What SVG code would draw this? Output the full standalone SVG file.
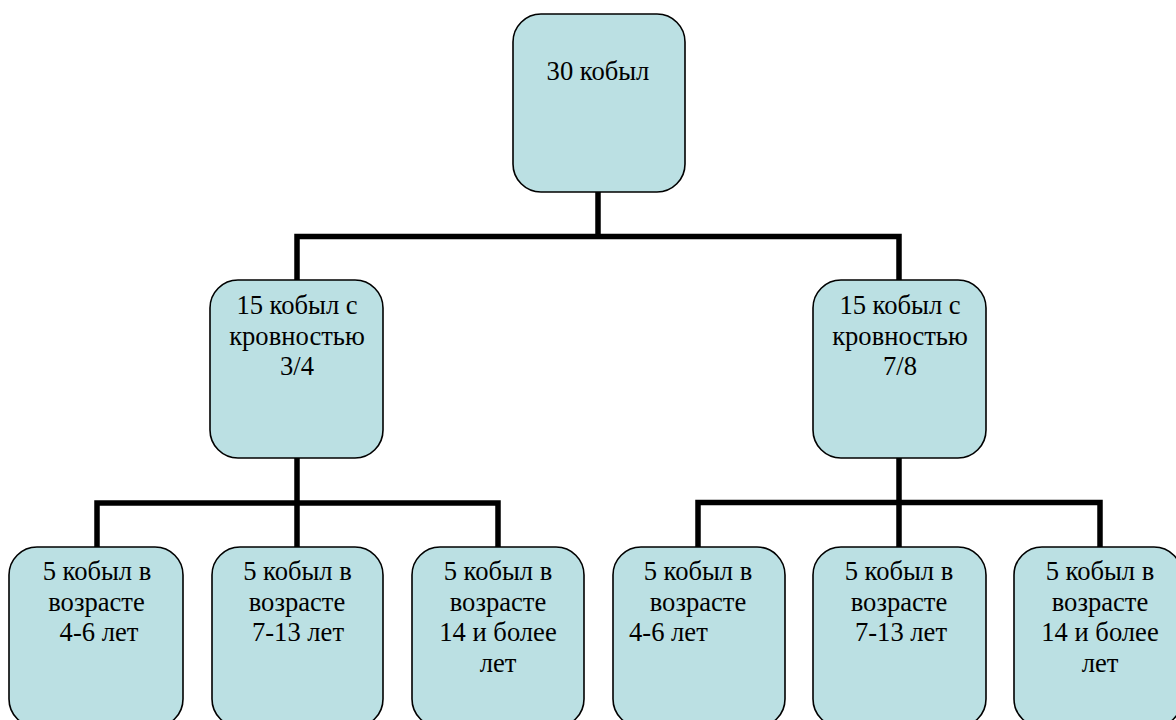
<svg xmlns="http://www.w3.org/2000/svg" width="1176" height="720" viewBox="0 0 1176 720">
  <style>
    .box { fill: #BBE0E3; stroke: #000000; stroke-width: 1.6; }
    .conn { fill: none; stroke: #000000; stroke-width: 5.5; stroke-linejoin: miter; stroke-linecap: square; }
  </style>
  <rect x="0" y="0" width="1176" height="720" fill="#FFFFFF"/>
  <g id="connectors">
    <path class="conn" d="M598,192 V236.5 M297,236.5 H899 M297,236.5 V280 M899,236.5 V280"/>
    <path class="conn" d="M297,458 V503 M97,503 H498 M97,503 V547 M297,503 V547 M498,503 V547"/>
    <path class="conn" d="M899,458 V502.5 M698,502.5 H1100 M698,502.5 V547 M899,502.5 V547 M1100,502.5 V547"/>
  </g>
  <g id="n0">
    <rect class="box" x="513" y="14" width="172" height="178" rx="28" ry="28"/>
    <text font-family="Liberation Serif, Tinos, serif" font-size="26.6" text-anchor="middle" x="598" y="80">30 кобыл</text>
  </g>
  <g id="n1">
    <rect class="box" x="210" y="280" width="173" height="178" rx="28" ry="28"/>
    <text font-family="Liberation Serif, Tinos, serif" font-size="26.6" text-anchor="middle" x="297" y="314">15 кобыл с</text>
    <text font-family="Liberation Serif, Tinos, serif" font-size="26.6" text-anchor="middle" x="297" y="345">кровностью</text>
    <text font-family="Liberation Serif, Tinos, serif" font-size="26.6" text-anchor="middle" x="297" y="375">3/4</text>
  </g>
  <g id="n2">
    <rect class="box" x="813" y="280" width="173" height="178" rx="28" ry="28"/>
    <text font-family="Liberation Serif, Tinos, serif" font-size="26.6" text-anchor="middle" x="900" y="314">15 кобыл с</text>
    <text font-family="Liberation Serif, Tinos, serif" font-size="26.6" text-anchor="middle" x="900" y="345">кровностью</text>
    <text font-family="Liberation Serif, Tinos, serif" font-size="26.6" text-anchor="middle" x="900" y="375">7/8</text>
  </g>
  <g id="n3">
    <rect class="box" x="9" y="547" width="174" height="180" rx="28" ry="28"/>
    <text font-family="Liberation Serif, Tinos, serif" font-size="26.6" text-anchor="middle" x="97" y="580">5 кобыл в</text>
    <text font-family="Liberation Serif, Tinos, serif" font-size="26.6" text-anchor="middle" x="96.5" y="610.5">возрасте</text>
    <text font-family="Liberation Serif, Tinos, serif" font-size="26.6" text-anchor="middle" x="99" y="641">4-6 лет</text>
  </g>
  <g id="n4">
    <rect class="box" x="212" y="547" width="171" height="180" rx="28" ry="28"/>
    <text font-family="Liberation Serif, Tinos, serif" font-size="26.6" text-anchor="middle" x="297.5" y="580">5 кобыл в</text>
    <text font-family="Liberation Serif, Tinos, serif" font-size="26.6" text-anchor="middle" x="297" y="610.5">возрасте</text>
    <text font-family="Liberation Serif, Tinos, serif" font-size="26.6" text-anchor="middle" x="298" y="641">7-13 лет</text>
  </g>
  <g id="n5">
    <rect class="box" x="412" y="547" width="172" height="180" rx="28" ry="28"/>
    <text font-family="Liberation Serif, Tinos, serif" font-size="26.6" text-anchor="middle" x="498" y="580">5 кобыл в</text>
    <text font-family="Liberation Serif, Tinos, serif" font-size="26.6" text-anchor="middle" x="498" y="610.5">возрасте</text>
    <text font-family="Liberation Serif, Tinos, serif" font-size="26.6" text-anchor="middle" x="498" y="641">14 и более</text>
    <text font-family="Liberation Serif, Tinos, serif" font-size="26.6" text-anchor="middle" x="498" y="671.5">лет</text>
  </g>
  <g id="n6">
    <rect class="box" x="613" y="547" width="172" height="180" rx="28" ry="28"/>
    <text font-family="Liberation Serif, Tinos, serif" font-size="26.6" text-anchor="middle" x="698" y="580">5 кобыл в</text>
    <text font-family="Liberation Serif, Tinos, serif" font-size="26.6" text-anchor="middle" x="698" y="610.5">возрасте</text>
    <text font-family="Liberation Serif, Tinos, serif" font-size="26.6" x="629" y="641">4-6 лет</text>
  </g>
  <g id="n7">
    <rect class="box" x="813" y="547" width="173" height="180" rx="28" ry="28"/>
    <text font-family="Liberation Serif, Tinos, serif" font-size="26.6" text-anchor="middle" x="899" y="580">5 кобыл в</text>
    <text font-family="Liberation Serif, Tinos, serif" font-size="26.6" text-anchor="middle" x="899" y="610.5">возрасте</text>
    <text font-family="Liberation Serif, Tinos, serif" font-size="26.6" text-anchor="middle" x="901" y="641">7-13 лет</text>
  </g>
  <g id="n8">
    <rect class="box" x="1014" y="547" width="168" height="180" rx="28" ry="28"/>
    <text font-family="Liberation Serif, Tinos, serif" font-size="26.6" text-anchor="middle" x="1100" y="580">5 кобыл в</text>
    <text font-family="Liberation Serif, Tinos, serif" font-size="26.6" text-anchor="middle" x="1100" y="610.5">возрасте</text>
    <text font-family="Liberation Serif, Tinos, serif" font-size="26.6" text-anchor="middle" x="1100" y="641">14 и более</text>
    <text font-family="Liberation Serif, Tinos, serif" font-size="26.6" text-anchor="middle" x="1100" y="671.5">лет</text>
  </g>
</svg>
